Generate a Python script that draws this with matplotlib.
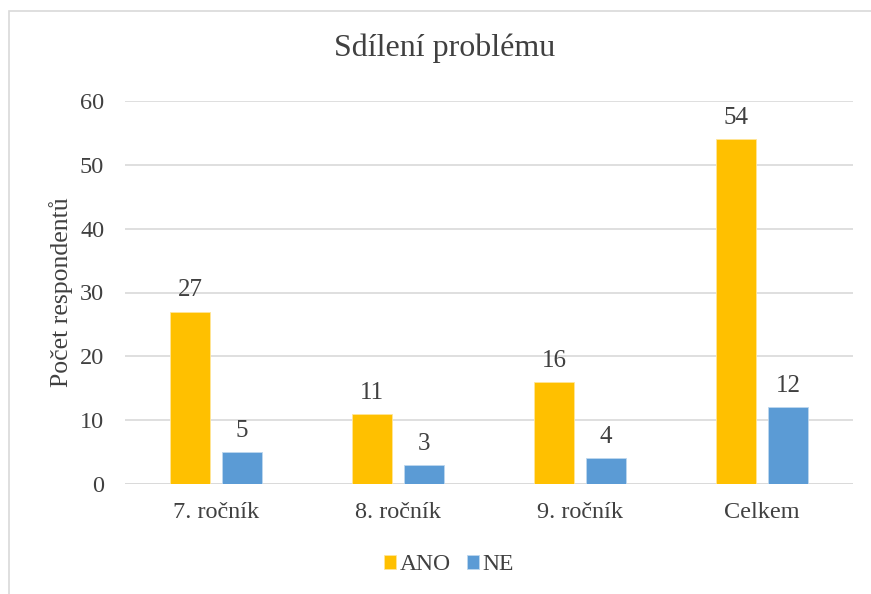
import matplotlib.pyplot as plt
import numpy as np
from matplotlib.patches import Rectangle

categories = ['7. ročník', '8. ročník', '9. ročník', 'Celkem']
ano = [27, 11, 16, 54]
ne = [5, 3, 4, 12]

plt.rcParams['font.family'] = ['Liberation Serif', 'DejaVu Serif']

fig = plt.figure(figsize=(8.71, 5.94), dpi=100)
ax = fig.add_axes([125 / 871, 1 - 484 / 594, (853 - 125) / 871, (484 - 101) / 594])

# outer chart frame (only left and top edges are visible in the crop)
fig.patches.append(Rectangle((9 / 871, -0.1), 1.2, 1 - 11 / 594 + 0.1,
                             transform=fig.transFigure, fill=False,
                             edgecolor='#D9D9D9', linewidth=1.2))

x = np.arange(len(categories))
w = 0.22
off = 0.143
b1 = ax.bar(x - off, ano, w, color='#FFC000', edgecolor='#FFE699', linewidth=0.6, label='ANO', zorder=3)
b2 = ax.bar(x + off, ne, w, color='#5B9BD5', edgecolor='#BDD7EE', linewidth=0.6, label='NE', zorder=3)

for bars in (b1, b2):
    for r in bars:
        ax.text(r.get_x() + r.get_width() / 2, r.get_height() + 1.6, str(int(r.get_height())),
                ha='center', va='bottom', fontsize=18, color='#404040')

ax.set_xlim(-0.5, 3.5)
ax.set_ylim(0, 60)
ax.set_yticks(range(0, 61, 10))
ax.set_xticks(x)
ax.set_xticklabels(categories)
ax.tick_params(length=0, labelsize=17.5, labelcolor='#404040')
ax.tick_params(axis='x', pad=13)
ax.tick_params(axis='y', pad=15)
ax.yaxis.grid(True, color='#D9D9D9', linewidth=1.2, zorder=0)
for s in ax.spines.values():
    s.set_visible(False)
ax.axhline(0, color='#D9D9D9', linewidth=1.2, zorder=1)

ax.set_ylabel('Počet respondentů', fontsize=18.5, color='#404040', labelpad=5)
fig.text(0.511, 0.918, 'Sdílení problému', ha='center', va='center', fontsize=23, color='#404040')

fig.legend(handles=[b1, b2], labels=['ANO', 'NE'], loc='center', bbox_to_anchor=(449 / 871, 0.049),
           ncol=2, frameon=False, fontsize=17, handlelength=0.5, handleheight=0.5,
           handletextpad=0.15, columnspacing=0.7, labelcolor='#404040')

fig.savefig('out.png', dpi=100)
